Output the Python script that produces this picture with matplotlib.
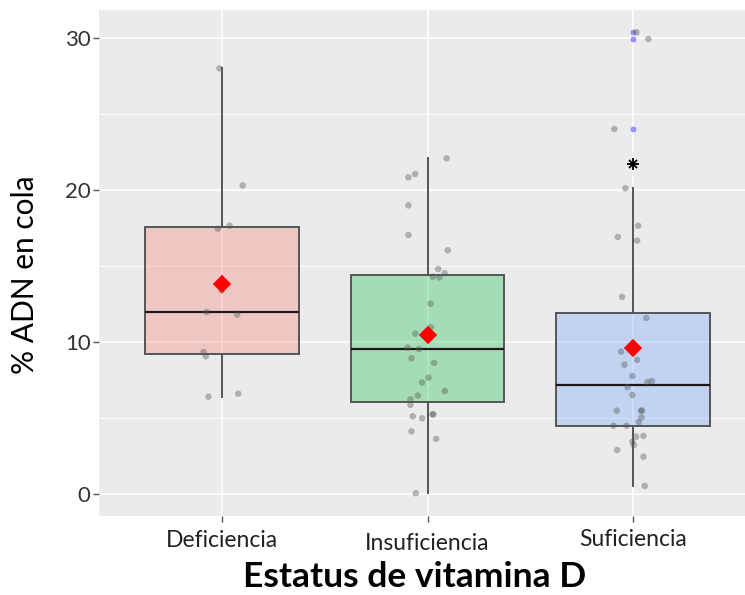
import numpy as np
import matplotlib
matplotlib.use("Agg")
import matplotlib.pyplot as plt
from matplotlib.transforms import ScaledTranslation

# ---------------- data ----------------
categories = ["Deficiencia", "Insuficiencia", "Suficiencia"]

deficiencia = [28.0, 20.3, 17.65, 17.45, 13.4, 11.97, 11.8, 9.34, 9.06, 6.6, 6.4]
deficiencia_jitter = [-0.013, 0.100, 0.036, -0.021, -0.003, -0.076, 0.073, -0.091, -0.080, 0.078, -0.067]

insuficiencia = [22.08, 21.05, 20.83, 18.99, 17.04, 16.03, 14.8, 14.52, 14.3, 14.25,
                 12.52, 10.96, 10.55, 10.5, 9.63, 9.54, 8.93, 8.62, 7.65, 7.33,
                 6.78, 6.47, 6.23, 5.86, 5.24, 5.24, 5.11, 4.98, 4.12, 3.62, 0.05]
insuficiencia_jitter = [0.093, -0.060, -0.093, -0.093, -0.093, 0.099, 0.052, 0.084, 0.026, 0.058,
                        0.015, 0.016, -0.060, 0.005, -0.097, -0.041, -0.078, 0.032, 0.005, -0.026,
                        0.084, -0.047, -0.083, -0.083, 0.024, 0.029, -0.072, -0.026, -0.078, 0.042, -0.057]

suficiencia = [30.37, 29.93, 24.01, 20.11, 17.65, 16.91, 16.67, 12.96, 11.58, 9.6,
               9.36, 8.82, 8.51, 7.76, 7.43, 7.37, 7.02, 6.51, 5.48, 5.48,
               5.48, 5.04, 4.72, 4.49, 4.49, 3.82, 3.77, 3.44, 3.22, 2.89, 2.45, 0.53]
suficiencia_jitter = [0.018, 0.076, -0.090, -0.036, 0.026, -0.073, 0.021, -0.052, 0.066, 0.0,
                      -0.057, 0.021, -0.041, -0.002, 0.093, 0.071, -0.026, -0.002, -0.078, 0.040,
                      0.045, 0.042, 0.029, -0.094, -0.031, 0.052, 0.016, -0.002, 0.005, -0.076, 0.052, 0.058]

groups = [deficiencia, insuficiencia, suficiencia]
jitters = [deficiencia_jitter, insuficiencia_jitter, suficiencia_jitter]

asterisk_value = 21.73          # "*" annotation above the Suficiencia whisker
asterisk_group = 2

y_ticks = [0, 10, 20, 30]
y_minor = [5, 15, 25]

fill_colors = ["#F8766D", "#00BA38", "#619CFF"]

# ---------------- figure ----------------
W, H, DPI = 745, 595, 100
fig = plt.figure(figsize=(W / DPI, H / DPI), dpi=DPI)
fig.patch.set_facecolor("white")

left_px, right_px, top_px, bottom_px = 99, 756, 10, 516
ax = fig.add_axes([left_px / W, 1 - bottom_px / H,
                   (right_px - left_px) / W, (bottom_px - top_px) / H])
ax.set_facecolor("#EBEBEB")
for s in ax.spines.values():
    s.set_visible(False)

positions = np.arange(len(categories))

# boxplots
bp = ax.boxplot(groups, positions=positions, widths=0.75, patch_artist=True,
                whis=1.5, showcaps=False, showfliers=True, zorder=2,
                boxprops=dict(edgecolor="#555555", linewidth=1.4),
                whiskerprops=dict(color="#555555", linewidth=1.4),
                medianprops=dict(color="#1a1a1a", linewidth=1.6),
                flierprops=dict(marker="o", markersize=4.2, markerfacecolor="#0000FF",
                                markeredgecolor="none", alpha=0.4))
for patch, c in zip(bp["boxes"], fill_colors):
    patch.set_facecolor(matplotlib.colors.to_rgba(c, 0.3))

# jittered points
for i, (vals, jit) in enumerate(zip(groups, jitters)):
    ax.scatter(np.full(len(vals), positions[i]) + np.array(jit), vals, s=22,
               color="#555555", alpha=0.4, edgecolors="none", zorder=3)

# means
means = [np.mean(g) for g in groups]
ax.plot(positions, means, linestyle="none", marker="D", markersize=8,
        color="#FF0000", markeredgecolor="#FF0000", markeredgewidth=1.2,
        zorder=4)

# asterisk annotation
ax.plot([positions[asterisk_group]], [asterisk_value], marker="+", markersize=8,
        color="black", markeredgewidth=1.3, zorder=4)
ax.plot([positions[asterisk_group]], [asterisk_value], marker="x", markersize=6,
        color="black", markeredgewidth=1.3, zorder=4)

# axes, ticks, grid
ax.set_xlim(-0.6, len(categories) - 1 + 0.6)
ax.set_ylim(-1.45, 31.84)
ax.set_yticks(y_ticks)
ax.set_yticks(y_minor, minor=True)
ax.set_xticks(positions)
ax.set_xticklabels(categories)
ax.set_axisbelow(True)
ax.grid(which="major", color="white", linewidth=1.1)
ax.grid(which="minor", axis="y", color="white", linewidth=0.6)
ax.tick_params(which="minor", length=0)

FONT = ["Lato", "DejaVu Sans"]
ax.tick_params(axis="both", which="major", length=4, width=1, color="#555555",
               pad=2)
for lbl in ax.get_yticklabels():
    lbl.set_fontfamily(FONT)
    lbl.set_fontsize(16)
    lbl.set_color("#333333")
label_dy = [-6, -9, -5]   # small vertical offsets of the category labels (px)
for lbl, dy in zip(ax.get_xticklabels(), label_dy):
    lbl.set_fontfamily(FONT)
    lbl.set_fontsize(16.5)
    lbl.set_color("#222222")
    lbl.set_transform(lbl.get_transform() + ScaledTranslation(0, dy / DPI, fig.dpi_scale_trans))

# axis labels
ax.set_ylabel("% ADN en cola", fontsize=21.5, family=FONT, color="black", va="center")
ax.yaxis.set_label_coords(-0.112, 0.476)
ax.set_xlabel("Estatus de vitamina D", fontsize=25.5, family=FONT, fontweight="bold",
              color="black", va="center")
ax.xaxis.set_label_coords(0.481, -0.121)

fig.savefig("out.png", dpi=DPI)
